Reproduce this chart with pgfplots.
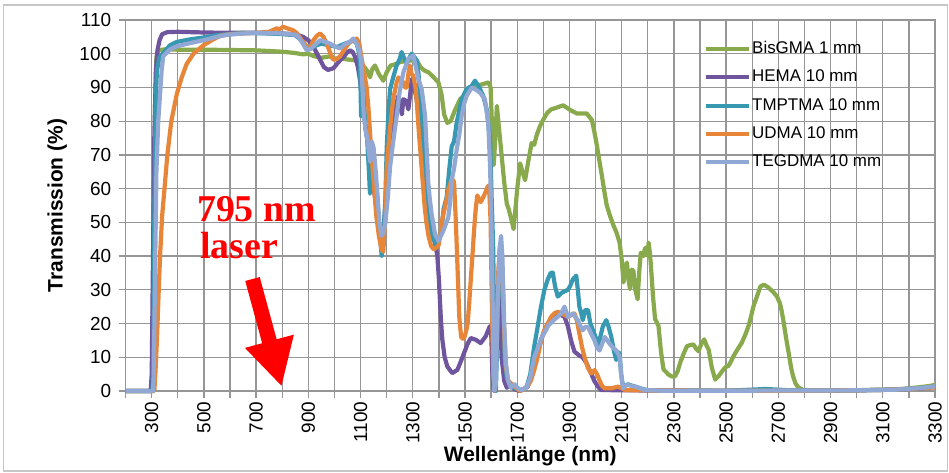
\documentclass[border=0pt]{standalone}
\usepackage{pgfplots}
\pgfplotsset{compat=1.18}
\usepackage{fontspec}
\setmainfont{Liberation Sans}
\newfontfamily\annofont{Liberation Serif}
\usetikzlibrary{arrows.meta}
\definecolor{cGreen}{RGB}{137,170,76}
\definecolor{cPurple}{RGB}{111,84,158}
\definecolor{cTeal}{RGB}{55,152,178}
\definecolor{cOrange}{RGB}{231,134,57}
\definecolor{cLBlue}{RGB}{145,168,212}
\definecolor{cGrid}{RGB}{150,150,150}
\begin{document}
\begin{tikzpicture}
\useasboundingbox (-125.6bp,-82bp) rectangle (823.4bp,391bp);
\fill[white] (-125.6bp,-82bp) rectangle (823.4bp,391bp);
\draw[gray!45, line width=1.5bp] (-122bp,-80bp) rectangle (822bp,386bp);
\begin{axis}[
  at={(0,0)}, anchor=south west,
  scale only axis, width=809.4bp, height=371bp,
  xmin=200, xmax=3300, ymin=0, ymax=110,
  xtick={300,500,...,3300},
  minor xtick={200,400,...,3200},
  ytick={0,10,...,110},
  grid=both,
  major grid style={color=cGrid, line width=1.3bp},
  minor grid style={color=cGrid, line width=1.3bp},
  axis line style={cGrid, line width=1.3bp},
  tick style={cGrid, line width=1.3bp},
  tick align=outside,
  major tick length=7bp, minor tick length=7bp,
  tick pos=left,
  clip=false,
  /pgf/number format/1000 sep={},
  /pgf/number format/assume math mode=true,
  tick label style={font=\fontsize{19}{22}\selectfont},
  xticklabel style={rotate=90, anchor=east},
  yticklabel style={xshift=-4bp},
  xlabel={Wellenlänge (nm)},
  ylabel={Transmission (\%)},
  label style={font=\fontsize{21}{24}\selectfont\bfseries},
  xlabel style={at={(axis description cs:0.5,-0.1887)}, anchor=base},
  ylabel style={at={(axis description cs:-0.0778,0.5)}, anchor=base},
  every axis plot/.append style={line width=4.2bp, line join=round},
  legend cell align=left,
  legend image code/.code={\draw[#1, line width=4bp] (0bp,0bp) -- (43bp,0bp);},
  legend style={draw=none, fill=none, inner sep=0pt, at={(0.714,0.949)}, anchor=north west,
    font=\fontsize{17}{20}\selectfont, row sep=8.2bp,
    nodes={inner sep=1.5bp, text height=13bp, text depth=4bp}},
]
% BisGMA 1 mm
\addplot[cGreen] coordinates {
(200,0)(300,0)(305,0)(309,40)(313,85)(318,99)(325,101)(350,101.3)(400,101.2)(500,101.2)(600,101.1)(700,101)(800,100.6)(850,100.2)(880,99.8)(900,100)(920,99.3)(950,98.8)(980,99.2)(1000,98.6)(1030,98.5)(1060,98.2)(1085,98)(1100,97)(1115,96)(1125,95)(1136,93)(1145,95.5)(1155,96.5)(1170,94)(1187,92)(1200,94.5)(1215,96.5)(1230,96.8)(1250,97.5)(1270,97.8)(1290,98)(1315,98)(1330,96)(1345,95)(1360,94.5)(1380,93)(1398,91.5)(1410,88)(1420,82)(1432,79.5)(1445,80)(1460,83)(1481,86.5)(1500,88)(1519,89.5)(1545,90.5)(1570,91)(1590,91.5)(1598,90)(1605,75)(1610,67)(1616,75)(1622,84.5)(1630,78)(1640,70)(1650,62)(1660,55.5)(1667,54)(1672,52.5)(1680,50)(1686,48)(1692,53)(1700,60)(1711,67.5)(1720,65)(1730,62.5)(1742,68)(1755,73.5)(1765,73)(1775,76)(1787,78.5)(1800,80.5)(1815,82.5)(1830,83.5)(1850,84)(1876,84.7)(1890,84)(1903,83.3)(1928,82.3)(1966,82.3)(1986,80.3)(1995,77)(2005,72.8)(2015,68)(2024,63.9)(2035,58.5)(2043,55)(2055,52)(2069,49)(2080,47)(2092,44)(2100,39)(2107,32.2)(2113,36)(2120,38.1)(2126,33)(2132,30.2)(2139,36)(2145,35.6)(2152,30)(2161,27.2)(2167,35)(2173,41)(2183,40)(2188,42)(2194,42.6)(2200,40)(2203,44)(2208,41)(2212,37.1)(2220,28)(2228,21.3)(2241,19.3)(2250,12)(2260,6.4)(2279,4.9)(2292,4.3)(2305,4.4)(2315,6)(2324,8.4)(2337,11)(2350,13.3)(2362,13.6)(2375,13.8)(2385,12.5)(2394,11.8)(2405,14)(2416,15.3)(2425,13.5)(2433,12.3)(2445,7)(2458,3.4)(2471,4.4)(2490,6.4)(2500,7.2)(2509,7.4)(2520,9)(2528,10.3)(2545,12.5)(2560,14.3)(2575,17)(2586,19.3)(2595,22)(2605,25.2)(2618,28)(2631,31)(2645,31.5)(2660,30.8)(2680,29.4)(2695,28)(2706,26)(2712,24)(2719,21)(2725,18)(2731,15.1)(2738,12)(2744,9.2)(2750,6.5)(2757,4.2)(2766,2.2)(2776,1.1)(2795,0.3)(2850,0.2)(2950,0.2)(3050,0.3)(3150,0.5)(3200,0.8)(3250,1.2)(3280,1.5)(3300,1.8)
};
\addlegendentry{BisGMA 1 mm}
% HEMA 10 mm
\addplot[cPurple] coordinates {
(200,0)(296,0)(300,5)(305,40)(310,75)(316,95)(322,101)(330,104)(340,105.8)(360,106.4)(400,106.5)(500,106.3)(600,106.2)(700,106.2)(800,106)(850,105.8)(880,105)(900,104)(920,102)(945,98.2)(960,96)(975,95.2)(996,95.7)(1015,97.5)(1034,99)(1050,100.5)(1060,101)(1070,100.5)(1079,99)(1090,96)(1098,92)(1105,88)(1112,84)(1120,78)(1130,72)(1140,64)(1150,60)(1160,55)(1170,48)(1178,44)(1186,46)(1195,55)(1205,68)(1215,76)(1230,83)(1245,87.5)(1252,85)(1258,82)(1264,86.5)(1275,86)(1283,83.5)(1290,88)(1296,92.5)(1305,90)(1315,86.5)(1322,82)(1328,76.5)(1340,66.5)(1353,54.5)(1362,49)(1372,46.5)(1385,44)(1394,40)(1400,33)(1407,22)(1413,15.3)(1422,10)(1432,7.3)(1451,5.3)(1471,6.3)(1485,9)(1496,11.2)(1510,14)(1522,15.7)(1541,15.2)(1560,14.2)(1579,16.2)(1595,19.2)(1600,18)(1605,5)(1610,0)(1618,10)(1625,25)(1632,30)(1640,10)(1650,3)(1660,1)(1675,1.5)(1690,0.5)(1710,0)(1740,1.3)(1752,4)(1765,7.3)(1778,11)(1791,15)(1804,18)(1817,20)(1836,22)(1855,23)(1868,22.5)(1881,22)(1890,20)(1894,19.2)(1906,15)(1919,11.7)(1938,10.5)(1950,10)(1964,8.5)(1975,6.5)(1983,5.2)(1995,3)(2009,1.3)(2020,0.3)(2100,0.2)(2400,0.1)(2700,0.1)(3000,0.2)(3150,0.4)(3250,0.8)(3300,1.2)
};
\addlegendentry{HEMA 10 mm}
% TMPTMA 10 mm
\addplot[cTeal] coordinates {
(200,0)(303,0)(306,10)(310,50)(315,85)(320,95)(330,99)(344,100.2)(370,102.5)(396,103.5)(450,104.3)(498,104.8)(550,105.5)(650,106.2)(750,106)(800,105.8)(850,105.5)(880,103.5)(894,102)(910,101.5)(930,102.5)(950,103)(980,102.5)(1010,102)(1040,103)(1060,103.5)(1072,104)(1085,103)(1092,101)(1098,97)(1102,81.5)(1107,92)(1112,88)(1118,78)(1125,75)(1132,65)(1136,58.5)(1142,66)(1150,63)(1158,60)(1165,55)(1172,48)(1181,40)(1188,46)(1195,57)(1200,72)(1207,83)(1213,89.5)(1225,93)(1238,96.5)(1250,98.5)(1257,100.5)(1265,99)(1277,97)(1288,99)(1296,100)(1306,99)(1315,98)(1322,94)(1328,86)(1335,80)(1345,65)(1352,56)(1360,52)(1368,48)(1375,46)(1385,44)(1392,43)(1400,45)(1410,48)(1418,54)(1425,56)(1430,57.6)(1440,66)(1449,72.5)(1458,74)(1468,79.5)(1487,86.5)(1506,89.5)(1526,90.5)(1538,92)(1551,90.5)(1570,87.5)(1583,83.5)(1596,74.5)(1602,57)(1608,42)(1613,10)(1618,0)(1625,20)(1632,40)(1638,44)(1645,30)(1652,10)(1660,4)(1672,2)(1685,1)(1700,0.5)(1715,0.2)(1735,1)(1750,5)(1765,13.2)(1778,19)(1791,25)(1804,30)(1817,33.1)(1828,35)(1836,35.1)(1845,31)(1855,28)(1868,29)(1880,29.5)(1894,30)(1903,31.2)(1913,33.1)(1926,34.2)(1932,30)(1938,25)(1945,23)(1951,21)(1960,24)(1971,24)(1980,20)(1990,18)(2000,16)(2009,13.2)(2018,16)(2028,19.2)(2041,21)(2050,19)(2060,16.1)(2070,12)(2079,9.2)(2088,11.5)(2092,11.1)(2098,5)(2105,1.2)(2124,2)(2150,1.3)(2176,0.7)(2200,0.2)(2500,0.1)(2600,0.4)(2650,0.6)(2700,0.4)(2750,0.2)(3000,0.2)(3150,0.4)(3250,0.9)(3300,1.3)
};
\addlegendentry{TMPTMA 10 mm}
% UDMA 10 mm
\addplot[cOrange] coordinates {
(200,0)(310,0)(314,5)(320,15)(326,28)(332,40)(340,52)(349,60)(360,70)(375,80)(396,88)(415,93)(434,97)(460,100)(498,102.5)(530,104)(562,105.3)(600,105.8)(650,106)(700,106.2)(750,106.5)(778,107.5)(790,107.3)(804,108)(820,107.5)(840,107)(855,106.2)(875,104)(894,102)(905,101.5)(919,104)(935,105.5)(945,106)(958,105)(970,103)(985,100)(996,98.2)(1010,98.5)(1021,99.2)(1040,101.5)(1060,103.6)(1085,104.5)(1095,103)(1102,99.5)(1112,95)(1123,90.2)(1130,84)(1140,72)(1150,62)(1160,52)(1170,46)(1180,42)(1187,41.3)(1195,52)(1200,66.5)(1213,78)(1225,86.5)(1238,91.5)(1245,93)(1255,92)(1264,91.5)(1270,90)(1277,90)(1283,94)(1289,96.5)(1295,94)(1302,93.5)(1310,90)(1315,86)(1322,78)(1330,70)(1338,62)(1345,55)(1352,50)(1360,46)(1370,43)(1380,42)(1390,42.5)(1398,43)(1405,46)(1413,51)(1422,54)(1430,57)(1437,60)(1442,61)(1449,63)(1458,62)(1465,50)(1472,35)(1478,22)(1485,16)(1492,15.5)(1498,16)(1505,18)(1510,20)(1516,26)(1522,33)(1530,42)(1535,48)(1541,54)(1547,58)(1553,57)(1560,56)(1570,57.5)(1579,59)(1586,60.5)(1592,61)(1598,50)(1603,25)(1608,5)(1613,0)(1620,15)(1627,35)(1634,43)(1640,40)(1648,22)(1655,8)(1665,3)(1680,2)(1695,1)(1710,0)(1725,0.5)(1740,1.5)(1752,3)(1765,6.2)(1778,10)(1791,15)(1804,18)(1817,20)(1830,22)(1842,23)(1855,23.5)(1868,23)(1881,22.5)(1894,22)(1906,22.5)(1919,23)(1928,21)(1938,17)(1948,13)(1958,10)(1970,7)(1983,5.2)(1996,6.2)(2005,5)(2015,3.2)(2025,1.5)(2035,0.8)(2060,0.8)(2086,1.3)(2100,0.8)(2112,0.3)(2150,0.2)(2400,0.1)(2800,0.1)(3100,0.3)(3200,0.6)(3300,1.1)
};
\addlegendentry{UDMA 10 mm}
% TEGDMA 10 mm
\addplot[cLBlue] coordinates {
(200,0)(305,0)(308,5)(312,30)(318,65)(325,80)(332,88)(338,95)(344,99.3)(370,101.3)(396,102.2)(450,103.2)(498,104)(550,105)(587,105.6)(650,106)(715,106.2)(800,106)(855,105.6)(875,103.5)(894,101)(910,101.5)(930,103)(945,104)(965,103.5)(983,103)(1000,102.2)(1021,101.6)(1040,102.8)(1060,103.6)(1072,104.5)(1085,103)(1095,101)(1102,98)(1107,90)(1112,82)(1118,78)(1125,75)(1130,72)(1136,68)(1143,74)(1150,72)(1157,66)(1165,58)(1172,50)(1180,46)(1188,47)(1195,50)(1205,58)(1213,66.5)(1225,74)(1238,81.5)(1250,89)(1264,94.5)(1283,98.5)(1302,99.5)(1312,96)(1321,92.5)(1334,89.5)(1340,86)(1347,81.5)(1353,72)(1359,62)(1365,57)(1372,52.5)(1385,46.5)(1398,44.5)(1417,47.5)(1436,51.5)(1443,56)(1449,62.5)(1458,66)(1468,71.5)(1478,76)(1487,81.5)(1496,85)(1506,87.5)(1526,90)(1538,89.5)(1557,88.5)(1576,86.5)(1589,79.5)(1596,66.5)(1602,46.5)(1607,20)(1612,0)(1618,2)(1625,25)(1632,42)(1638,46)(1643,40)(1650,20)(1657,8)(1665,3)(1675,1)(1690,2)(1700,1)(1715,0.3)(1735,1)(1750,4)(1765,10)(1780,13)(1791,15.5)(1804,17.2)(1820,19.5)(1842,21.2)(1855,22)(1868,23)(1881,25)(1894,22)(1905,22.5)(1913,23)(1922,22)(1932,21)(1940,19.5)(1951,18)(1960,19)(1971,19)(1983,17)(1996,15)(2005,13)(2015,12)(2025,14)(2035,16)(2045,15)(2054,14)(2065,13)(2079,12)(2087,11)(2092,10)(2098,5)(2105,0.8)(2115,1.6)(2124,1.9)(2140,1.4)(2155,1.3)(2170,0.8)(2188,0.3)(2250,0.1)(2600,0.1)(3000,0.2)(3150,0.4)(3250,0.9)(3300,1.4)
};
\addlegendentry{TEGDMA 10 mm}
% annotation
\node[anchor=base west, inner sep=0pt, text=red, font=\fontsize{38}{40}\annofont\bfseries] at (axis cs:473,50.2) {795 nm};
\node[anchor=base west, inner sep=0pt, text=red, font=\fontsize{38}{40}\annofont\bfseries] at (axis cs:485,39.3) {laser};
\draw[red, line width=15bp, -{Triangle[length=47bp 0 0, width=47bp 0 0]}] (axis cs:686,33.2) -- (axis cs:798,1.3);
\end{axis}
\end{tikzpicture}
\end{document}
